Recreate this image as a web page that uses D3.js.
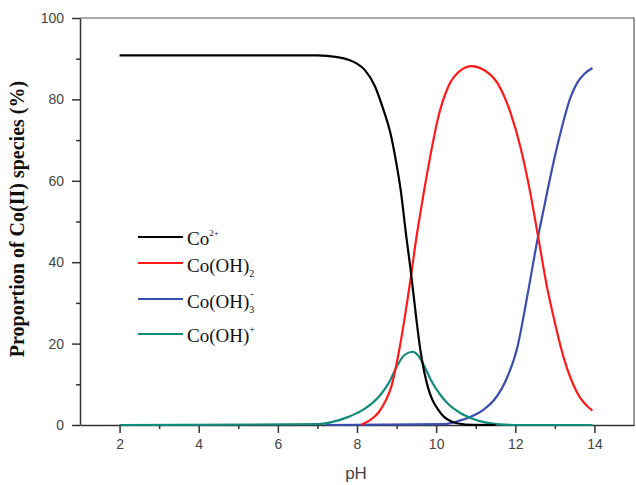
<!DOCTYPE html>
<html>
<head>
<meta charset="utf-8">
<script src="https://cdn.jsdelivr.net/npm/d3@7"></script>
<style>
  body { margin: 0; background: #fff; }
  svg { display: block; }
</style>
</head>
<body>
<div class="graph"></div>
<script>
// values (pH vs % of species)
var co2pH  = [2, 7.0, 7.5, 7.8, 8.0, 8.2, 8.45, 8.65, 8.85, 9.0, 9.1, 9.25, 9.37, 9.5, 9.6, 9.7, 9.8, 9.9, 10.05, 10.2, 10.4, 10.6, 10.9, 11.5];
var co2Val = [90.8, 90.8, 90.4, 89.7, 88.8, 87.2, 83.3, 78, 71.5, 64, 58, 46, 37, 26, 18.5, 13, 9, 6.3, 3.8, 2, 0.8, 0.3, 0.05, 0];

var ohpH  = [8.1, 8.3, 8.54, 8.7, 8.87, 9.04, 9.2, 9.37, 9.5, 9.6, 9.72, 9.87, 10.05, 10.3, 10.6, 10.9, 11.2, 11.55, 11.88, 12.13, 12.35, 12.6, 12.8, 12.98, 13.24, 13.56, 13.95];
var ohVal = [0, 1, 3, 5.5, 9.5, 17, 26, 37, 46, 52, 59, 67, 75.5, 83, 87, 88.2, 87.3, 84, 76.7, 68.3, 58.5, 45, 34, 26, 16, 8, 3.5];

var oh3pH  = [7.2, 10.2, 10.5, 10.87, 11.2, 11.47, 11.8, 12.05, 12.3, 12.56, 12.73, 12.94, 13.14, 13.4, 13.56, 13.75, 13.95];
var oh3Val = [0, 0.2, 0.8, 2, 3.8, 6.2, 11.8, 19, 31.5, 45.5, 53.6, 63.4, 71.7, 80.6, 84, 86.3, 87.7];

var ohpluspH  = [2, 7.0, 7.36, 7.78, 8.2, 8.6, 8.8, 9.04, 9.2, 9.4, 9.55, 9.7, 9.87, 10.1, 10.3, 10.6, 10.87, 11.2, 11.6, 12.0, 13.95];
var ohplusVal = [0, 0.2, 0.7, 2, 4, 7.5, 10.3, 15, 17.2, 18, 17, 14.5, 11, 7.5, 5.2, 3, 1.7, 0.7, 0.15, 0, 0];

var xMajor = [2, 4, 6, 8, 10, 12, 14];
var xMinor = [3, 5, 7, 9, 11, 13];
var yMajor = [0, 20, 40, 60, 80, 100];
var yMinor = [10, 30, 50, 70, 90];

var seriesColors = ["#000000", "#ff1a1a", "#3a4db0", "#138a7c"];

var W = 636, H = 485;
var margin = { top: 18, right: 2, bottom: 60, left: 80 };

var svg = d3.select(".graph").append("svg")
    .attr("width", W)
    .attr("height", H);

var x = d3.scaleLinear().domain([1, 15]).range([margin.left, W - margin.right]);
var y = d3.scaleLinear().domain([0, 100]).range([H - margin.bottom, margin.top]);

// frame (top + right)
svg.append("path")
    .attr("d", `M${x(1)},${y(100)}H${x(15)}V${y(0)}`)
    .attr("fill", "none")
    .attr("stroke", "#555")
    .attr("stroke-width", 1.2);

// x axis
svg.append("g")
    .attr("transform", `translate(0,${y(0)})`)
    .call(d3.axisBottom(x).tickValues(xMajor).tickSize(8).tickSizeOuter(0).tickPadding(6));
svg.append("g")
    .attr("transform", `translate(0,${y(0)})`)
    .call(d3.axisBottom(x).tickValues(xMinor).tickSize(4).tickSizeOuter(0).tickFormat(""))
    .select(".domain").remove();

// y axis
svg.append("g")
    .attr("transform", `translate(${x(1)},0)`)
    .call(d3.axisLeft(y).tickValues(yMajor).tickSize(8).tickSizeOuter(0).tickPadding(8));
svg.append("g")
    .attr("transform", `translate(${x(1)},0)`)
    .call(d3.axisLeft(y).tickValues(yMinor).tickSize(4).tickSizeOuter(0).tickFormat(""))
    .select(".domain").remove();

svg.selectAll(".domain, .tick line")
    .attr("stroke", "#333")
    .attr("stroke-width", 1.5);
svg.selectAll(".tick text")
    .attr("fill", "#444")
    .style("font-family", "Liberation Sans, Arial, sans-serif")
    .style("font-size", "14px");

// axis titles
svg.append("text")
    .attr("x", 356)
    .attr("y", 479)
    .attr("text-anchor", "middle")
    .attr("fill", "#444")
    .style("font-family", "Liberation Sans, Arial, sans-serif")
    .style("font-size", "17px")
    .text("pH");

svg.append("text")
    .attr("transform", "translate(24,219) rotate(-90)")
    .attr("text-anchor", "middle")
    .attr("fill", "#111")
    .style("font-family", "Liberation Serif, Times New Roman, serif")
    .style("font-weight", "bold")
    .style("font-size", "20px")
    .text("Proportion of Co(II) species (%)");

// curves
var series = [
    { pH: co2pH, val: co2Val },
    { pH: ohpH, val: ohVal },
    { pH: oh3pH, val: oh3Val },
    { pH: ohpluspH, val: ohplusVal }
];
var line = d3.line()
    .x((d) => x(d[0]))
    .y((d) => y(d[1]))
    .curve(d3.curveMonotoneX);

// draw order: blue, teal, red, black on top
[2, 3, 1, 0].forEach(function (i) {
    var s = series[i];
    svg.append("path")
        .datum(s.pH.map((p, k) => [p, s.val[k]]))
        .attr("fill", "none")
        .attr("stroke", seriesColors[i])
        .attr("stroke-width", 2.2)
        .attr("d", line);
});

// legend
var legendRows = [237, 263, 299, 334];
var legend = svg.append("g")
    .style("font-family", "Liberation Serif, Times New Roman, serif")
    .style("font-size", "19px")
    .attr("fill", "#111");

legendRows.forEach(function (ry, i) {
    legend.append("line")
        .attr("x1", 138).attr("x2", 183)
        .attr("y1", ry).attr("y2", ry)
        .attr("stroke", seriesColors[i])
        .attr("stroke-width", 2.2);
});

var t0 = legend.append("text").attr("x", 187).attr("y", legendRows[0] + 8);
t0.append("tspan").text("Co");
t0.append("tspan").attr("dy", -9).style("font-size", "9px").text("2+");

var t1 = legend.append("text").attr("x", 187).attr("y", legendRows[1] + 9);
t1.append("tspan").text("Co(OH)");
t1.append("tspan").attr("dy", 5).style("font-size", "10px").text("2");

var t2 = legend.append("text").attr("x", 187).attr("y", legendRows[2] + 9);
t2.append("tspan").text("Co(OH)");
t2.append("tspan").attr("dy", 5).style("font-size", "10px").text("3");
t2.append("tspan").attr("dx", -4).attr("dy", -16).style("font-size", "10px").text("-");

var t3 = legend.append("text").attr("x", 187).attr("y", legendRows[3] + 8);
t3.append("tspan").text("Co(OH)");
t3.append("tspan").attr("dy", -9).style("font-size", "10px").text("+");
</script>
</body>
</html>
